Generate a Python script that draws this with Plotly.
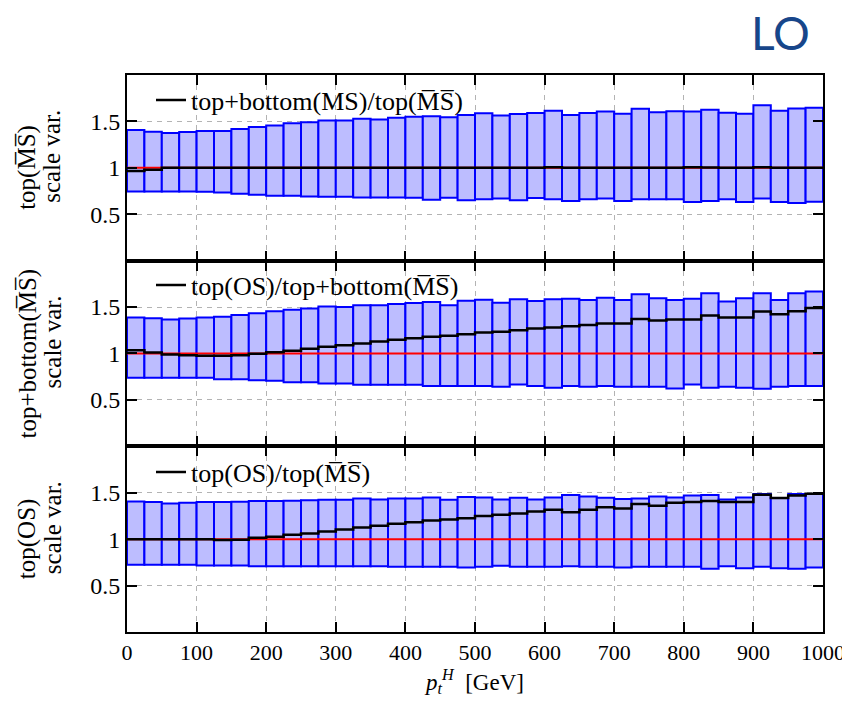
import numpy as np
import plotly.graph_objects as go

# ---------------- data ----------------
bin_width = 25.0
pt_min, pt_max = 0.0, 1000.0

# panel 1: top+bottom(MS)/top(MSbar)
top_up = [1.407,1.39,1.374,1.385,1.396,1.396,1.417,1.439,1.457,1.479,1.49,1.51,1.51,1.53,1.52,1.54,1.55,1.555,1.545,1.57,
          1.587,1.565,1.58,1.59,1.615,1.568,1.59,1.608,1.583,1.637,1.60,1.61,1.608,1.625,1.593,1.583,1.673,1.615,1.64,1.647]
top_lo = [0.745,0.745,0.745,0.745,0.742,0.735,0.72,0.71,0.70,0.70,0.69,0.688,0.688,0.68,0.68,0.68,0.678,0.655,0.678,0.652,
          0.662,0.67,0.652,0.676,0.662,0.644,0.662,0.67,0.644,0.662,0.662,0.662,0.633,0.644,0.662,0.633,0.67,0.633,0.62,0.635]
top_c = [0.965,0.98,1.0,1.0,1.0,1.0,1.0,1.0,1.0,1.0,1.0,1.0,1.0,1.0,1.0,1.0,1.0,1.0,1.0,1.0,
         1.0,1.0,1.0,1.0,1.005,1.0,1.0,1.0,1.0,1.0,1.0,1.0,1.005,1.003,1.0,1.0,1.005,1.0,1.0,1.0]

# panel 2: top(OS)/top+bottom(MSbar)
mid_up = [1.387,1.38,1.366,1.376,1.387,1.395,1.416,1.433,1.455,1.47,1.484,1.505,1.50,1.52,1.52,1.534,1.545,1.556,1.52,1.567,
          1.58,1.548,1.584,1.566,1.584,1.59,1.577,1.60,1.577,1.638,1.595,1.577,1.59,1.648,1.56,1.595,1.648,1.577,1.648,1.667]
mid_lo = [0.739,0.739,0.739,0.739,0.739,0.724,0.724,0.713,0.706,0.69,0.69,0.677,0.677,0.663,0.663,0.663,0.663,0.65,0.65,0.65,
          0.65,0.642,0.667,0.65,0.631,0.65,0.642,0.65,0.642,0.642,0.642,0.624,0.667,0.631,0.642,0.631,0.62,0.642,0.65,0.65]
mid_c = [1.036,1.01,0.99,0.982,0.975,0.975,0.982,0.997,1.014,1.029,1.05,1.072,1.09,1.108,1.129,1.147,1.165,1.18,1.19,1.208,
         1.225,1.233,1.25,1.269,1.28,1.294,1.308,1.323,1.323,1.373,1.355,1.366,1.366,1.409,1.387,1.387,1.452,1.423,1.455,1.491]

# panel 3: top(OS)/top(MSbar)
bot_up = [1.407,1.40,1.385,1.393,1.40,1.40,1.403,1.41,1.41,1.414,1.418,1.425,1.425,1.439,1.428,1.439,1.439,1.45,1.425,1.453,
          1.45,1.428,1.446,1.428,1.45,1.475,1.46,1.446,1.432,1.439,1.46,1.45,1.471,1.475,1.428,1.45,1.486,1.443,1.486,1.486]
bot_lo = [0.724,0.724,0.724,0.724,0.716,0.716,0.716,0.709,0.709,0.709,0.709,0.709,0.709,0.709,0.709,0.702,0.702,0.702,0.702,0.695,
          0.702,0.713,0.702,0.702,0.702,0.709,0.702,0.702,0.695,0.702,0.702,0.702,0.702,0.68,0.709,0.687,0.702,0.687,0.68,0.695]
bot_c = [1.0,1.0,1.0,1.0,1.0,0.99,0.995,1.015,1.026,1.047,1.061,1.083,1.105,1.126,1.144,1.166,1.183,1.2,1.212,1.226,
         1.25,1.263,1.277,1.299,1.317,1.291,1.317,1.345,1.331,1.38,1.36,1.392,1.40,1.41,1.40,1.40,1.479,1.443,1.471,1.49]

ov = "M\u0305S\u0305"
legend_names = [f"top+bottom(MS)/top({ov})", f"top(OS)/top+bottom({ov})", f"top(OS)/top({ov})"]
ylab_line1 = [f"top({ov})", f"top+bottom({ov})", "top(OS)"]
ylab_line2 = "scale var."
y_tickvals = [0.5, 1, 1.5]
y_ticktext = ["0.5", "1", "1.5"]
x_title = "<i>p</i><sub><i>t</i></sub><sup><i>H</i></sup>  [GeV]"

# ---------------- figure ----------------
FONT = "Liberation Serif"
edges = np.arange(pt_min, pt_max + bin_width / 2, bin_width)
centers = (edges[:-1] + edges[1:]) / 2

panels = [(top_up, top_lo, top_c), (mid_up, mid_lo, mid_c), (bot_up, bot_lo, bot_c)]
fig = go.Figure()

for i, (up, lo, c) in enumerate(panels):
    sfx = "" if i == 0 else str(i + 1)
    up = np.array(up); lo = np.array(lo); c = np.array(c)
    fig.add_trace(go.Bar(x=centers, y=up - lo, base=lo, width=bin_width,
                         marker=dict(color="#bdbdff", line=dict(color="#0000ff", width=2)),
                         xaxis="x" + sfx, yaxis="y" + sfx, showlegend=False, hoverinfo="skip"))
    fig.add_trace(go.Scatter(x=[pt_min, pt_max], y=[1, 1], mode="lines",
                             line=dict(color="#ff0000", width=2),
                             xaxis="x" + sfx, yaxis="y" + sfx, showlegend=False, hoverinfo="skip"))
    fig.add_trace(go.Scatter(x=edges, y=list(c) + [c[-1]], mode="lines", line_shape="hv",
                             line=dict(color="black", width=2.5), name=legend_names[i],
                             xaxis="x" + sfx, yaxis="y" + sfx, legend="legend" + sfx, showlegend=True))

# page has an 8px body margin; keep the page inside the 850x716 window (no scrollbars)
OFF = 8
W, H = 850 - OFF, 716 - 2 * OFF
# target plot box in window pixels: x 127..823, y 75..632
ml, mr, mt = 127 - OFF, 850 - 823, 75 - OFF
mb = (H + OFF) - 632
plot_w = W - ml - mr
plot_h = H - mt - mb


def px_x(px):  # window x pixel -> paper x
    return (px - OFF - ml) / plot_w


def px_y(py):  # window y pixel -> paper y
    return 1 - (py - OFF - mt) / plot_h


domains = [[2/3, 1], [1/3, 2/3], [0, 1/3]]
legend_centers_px = [100, 285, 472]

layout = dict(width=W, height=H, margin=dict(l=ml, r=mr, t=mt, b=mb, autoexpand=False),
              paper_bgcolor="white", plot_bgcolor="white", barmode="overlay",
              font=dict(family=FONT, size=20, color="black"))
annotations = []
for i in range(3):
    sfx = "" if i == 0 else str(i + 1)
    xa = dict(range=[pt_min, pt_max], dtick=100, tick0=0, showgrid=True, gridcolor="#b3b3b3",
              griddash="5px,5px", gridwidth=1, showline=True, linecolor="black", linewidth=2,
              mirror="ticks", ticks="inside", ticklen=10, tickwidth=2, tickcolor="black",
              anchor="y" + sfx, zeroline=False, showticklabels=(i == 2),
              tickfont=dict(family=FONT, size=22))
    if i > 0:
        xa["matches"] = "x"
    if i == 2:
        xa["title"] = dict(text=x_title, font=dict(family=FONT, size=23), standoff=9)
    ya = dict(range=[0, 2], domain=domains[i], tickvals=y_tickvals, ticktext=y_ticktext,
              showgrid=True, gridcolor="#b3b3b3", griddash="5px,5px", gridwidth=1,
              showline=True, linecolor="black", linewidth=2, mirror="ticks", ticks="inside",
              ticklen=10, tickwidth=2, tickcolor="black", anchor="x" + sfx, zeroline=False,
              tickfont=dict(family=FONT, size=24))
    layout["xaxis" + sfx] = xa
    layout["yaxis" + sfx] = ya
    layout["legend" + sfx] = dict(x=px_x(151), xanchor="left",
                                  y=px_y(legend_centers_px[i]), yanchor="middle",
                                  bgcolor="rgba(0,0,0,0)", borderwidth=0,
                                  font=dict(family=FONT, size=26))
    annotations.append(dict(text=ylab_line1[i], textangle=-90, xref="paper", yref="y" + sfx + " domain",
                            x=px_x(27), y=0.5, xanchor="center", yanchor="middle",
                            showarrow=False, font=dict(family=FONT, size=25)))
    annotations.append(dict(text=ylab_line2, textangle=-90, xref="paper", yref="y" + sfx + " domain",
                            x=px_x(52), y=0.5, yshift=11, xanchor="center", yanchor="middle",
                            showarrow=False, font=dict(family=FONT, size=25)))
annotations.append(dict(text="LO", xref="paper", yref="paper", x=px_x(780),
                        y=px_y(33), xanchor="center", yanchor="middle", showarrow=False,
                        font=dict(family="Lato", size=46, color="#17468a")))
layout["annotations"] = annotations
fig.update_layout(**layout)
fig.write_html("out.html")
